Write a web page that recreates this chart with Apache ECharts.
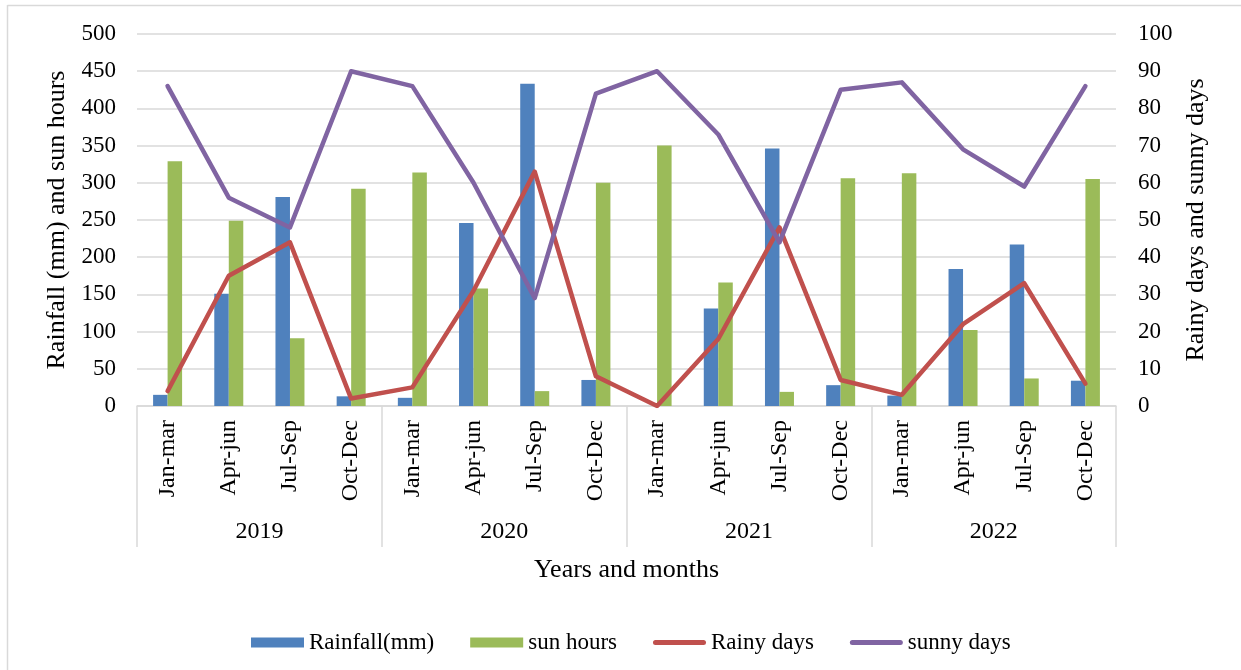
<!DOCTYPE html>
<html>
<head>
<meta charset="utf-8">
<script src="https://cdn.jsdelivr.net/npm/echarts@6/dist/echarts.min.js"></script>
<style>
html,body{margin:0;padding:0;background:#fff;}
#chart{width:1241px;height:670px;}
</style>
</head>
<body>
<div id="chart"></div>
<script>
const months = ['Jan-mar','Apr-jun','Jul-Sep','Oct-Dec','Jan-mar','Apr-jun','Jul-Sep','Oct-Dec','Jan-mar','Apr-jun','Jul-Sep','Oct-Dec','Jan-mar','Apr-jun','Jul-Sep','Oct-Dec'];
const years = ['2019','2020','2021','2022'];
const rainfall = [15, 151, 281, 13, 11, 246, 433, 35, 0, 131, 346, 28, 14, 184, 217, 34];
const sunHours = [329, 249, 91, 292, 314, 158, 20, 300, 350, 166, 19, 306, 313, 102, 37, 305];
const rainyDays = [4, 35, 44, 2, 5, 31, 63, 8, 0, 18, 48, 7, 3, 22, 33, 6];
const sunnyDays = [86, 56, 48, 90, 86, 60, 29, 84, 90, 73, 44, 85, 87, 69, 59, 86];
const leftTicks = [0, 500, 50];
const rightTicks = [0, 100, 10];

const FONT = '"Liberation Serif", "Times New Roman", serif';
const GRID = '#D9D9D9';
const LINE_ICON = 'path://M2.5,0 H50.5 A2.5,2.5 0 0 1 50.5,5 H2.5 A2.5,2.5 0 0 1 2.5,0 Z';

const chart = echarts.init(document.getElementById('chart'), null, {renderer: 'canvas'});
chart.setOption({
  backgroundColor: '#fff',
  animation: false,
  textStyle: {fontFamily: FONT, color: '#000'},
  grid: {left: 137, right: 125, top: 34, bottom: 264, containLabel: false},
  graphic: [
    {type: 'line', shape: {x1: 7.5, y1: 5, x2: 7.5, y2: 670}, style: {stroke: GRID, lineWidth: 1.5}},
    {type: 'line', shape: {x1: 7.5, y1: 5.5, x2: 1241, y2: 5.5}, style: {stroke: GRID, lineWidth: 1.5}}
  ],
  legend: {
    top: 626, left: 246,
    itemWidth: 53, itemHeight: 10, itemGap: 36, symbolKeepAspect: true,
    textStyle: {fontFamily: FONT, fontSize: 23, color: '#000'},
    data: [
      {name: 'Rainfall(mm)', icon: 'rect'},
      {name: 'sun hours', icon: 'rect'},
      {name: 'Rainy days', icon: LINE_ICON},
      {name: 'sunny days', icon: LINE_ICON}
    ]
  },
  xAxis: [
    {
      type: 'category', data: months, position: 'bottom',
      axisLine: {lineStyle: {color: GRID, width: 1.5}},
      axisTick: {show: false},
      axisLabel: {rotate: 90, margin: 14, fontFamily: FONT, fontSize: 24, color: '#000', interval: 0}
    },
    {
      type: 'category', data: years, position: 'bottom',
      axisLine: {show: false},
      axisTick: {show: true, length: 141, lineStyle: {color: GRID, width: 1.5}},
      axisLabel: {margin: 114, fontFamily: FONT, fontSize: 24, color: '#000'},
      name: 'Years and months', nameLocation: 'middle', nameGap: 151,
      nameTextStyle: {fontFamily: FONT, fontSize: 26, color: '#000'}
    }
  ],
  yAxis: [
    {
      type: 'value', min: leftTicks[0], max: leftTicks[1], interval: leftTicks[2],
      axisLine: {show: false}, axisTick: {show: false},
      splitLine: {lineStyle: {color: GRID, width: 1.5}},
      axisLabel: {margin: 21, fontFamily: FONT, fontSize: 23, color: '#000'},
      name: 'Rainfall (mm) and sun hours', nameLocation: 'middle', nameGap: 63, nameRotate: 90,
      nameTextStyle: {fontFamily: FONT, fontSize: 26, color: '#000'}
    },
    {
      type: 'value', min: rightTicks[0], max: rightTicks[1], interval: rightTicks[2],
      position: 'right',
      axisLine: {show: false}, axisTick: {show: false},
      splitLine: {show: false},
      axisLabel: {margin: 22, fontFamily: FONT, fontSize: 23, color: '#000'},
      name: 'Rainy days and sunny days', nameLocation: 'middle', nameGap: 58, nameRotate: 90,
      nameTextStyle: {fontFamily: FONT, fontSize: 26, color: '#000'}
    }
  ],
  series: [
    {name: 'Rainfall(mm)', type: 'bar', data: rainfall, barWidth: 14.5, barGap: '0%', itemStyle: {color: '#4F81BD'}},
    {name: 'sun hours', type: 'bar', data: sunHours, barWidth: 14.5, barGap: '0%', itemStyle: {color: '#9BBB59'}},
    {name: 'Rainy days', type: 'line', yAxisIndex: 1, data: rainyDays, symbol: 'none',
     lineStyle: {color: '#C0504D', width: 4.5, cap: 'round', join: 'round'}, itemStyle: {color: '#C0504D'}},
    {name: 'sunny days', type: 'line', yAxisIndex: 1, data: sunnyDays, symbol: 'none',
     lineStyle: {color: '#8064A2', width: 4.5, cap: 'round', join: 'round'}, itemStyle: {color: '#8064A2'}}
  ]
});
</script>
</body>
</html>
